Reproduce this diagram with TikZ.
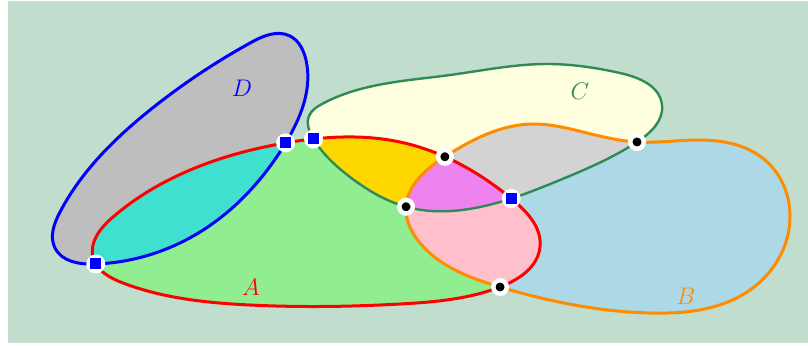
\documentclass[tikz,border=0pt]{standalone}
\usepackage{xcolor}
\usepackage{tikz}
\usetikzlibrary{intersections,hobby}

\definecolor{bgsage}{HTML}{C0DDCD}
\definecolor{dgray}{HTML}{BEBEBE}
\definecolor{turq}{HTML}{40E0D0}
\definecolor{lgreen}{HTML}{90EE90}
\definecolor{lyellow}{HTML}{FFFFE0}
\definecolor{goldfill}{HTML}{FFD700}
\definecolor{violetfill}{HTML}{EE82EE}
\definecolor{lgrayfill}{HTML}{D3D3D3}
\definecolor{pinkfill}{HTML}{FFC0CB}
\definecolor{lblue}{HTML}{ADD8E6}
\definecolor{dorange}{HTML}{FF8C00}
\definecolor{sgreen}{HTML}{2E8B57}

% the four sets, as closed curves
\newcommand{\curveA}{plot[closed hobby] coordinates {(93,257) (113,217) (200,166) (285,143)
    (400,142) (513,200) (540,247) (500,287) (400,304) (250,305) (123,283)}}
\newcommand{\curveB}{plot[closed hobby] coordinates {(406,207) (446,156) (533,124) (583,132)
    (637,142) (700,140) (765,160) (790,215) (750,290) (650,313) (500,287) (420,243)}}
\newcommand{\curveC}{plot[closed hobby] coordinates {(313,138) (309,116) (322,104) (450,75)
    (545,64) (620,73) (662,105) (637,142) (560,180) (480,207) (407,207) (350,177)}}
\newcommand{\curveD}{plot[closed hobby] coordinates {(95,264) (55,248) (60,212) (150,110)
    (250,43) (290,36) (306,60) (285,144) (200,232)}}

\begin{document}
\begin{tikzpicture}[
    x=0.5pt, y=-0.5pt,
    font=\fontsize{13}{16}\selectfont,
    setline/.style={line width=1.5pt},
    sqmark/.style={circle, fill=white, minimum size=9.5pt, inner sep=0pt,
        path picture={\fill[blue] ([shift={(-2.75pt,-2.75pt)}]path picture bounding box.center)
            rectangle ++(5.5pt,5.5pt);}},
    dotmark/.style={circle, fill=black, draw=white, line width=2.25pt,
        minimum size=6.75pt, inner sep=0pt},
    ]
\useasboundingbox (0,0) rectangle (808,345);
\fill[bgsage] (8,1) rectangle (808,343);

% plain regions
\fill[lgreen] \curveA;
\fill[lblue] \curveB;
\fill[lyellow] \curveC;
\fill[dgray] \curveD;

% overlaps
\begin{scope}
  \clip \curveA;
  \fill[turq] \curveD;
  \fill[goldfill] \curveC;
  \fill[pinkfill] \curveB;
\end{scope}
\begin{scope}
  \clip \curveB;
  \fill[lgrayfill] \curveC;
  \clip \curveA;
  \fill[violetfill] \curveC;
\end{scope}

% outlines
\draw[setline, red, name path=A] \curveA;
\draw[setline, dorange, name path=B] \curveB;
\draw[line width=1.2pt, sgreen, name path=C] \curveC;
\draw[setline, blue, name path=D] \curveD;

% labels
\node[blue] (labD) at (242,88) {$D$};
\node[sgreen] (labC) at (580,91) {$C$};
\node[red] (labA) at (251,287) {$A$};
\node[dorange] (labB) at (686,296) {$B$};

% crossing points
\path[name intersections={of=A and D, name=ad}];
\path[name intersections={of=A and C, name=ac}];
\path[name intersections={of=A and B, name=ab}];
\path[name intersections={of=B and C, name=bc}];
\node[sqmark] (ad1) at (ad-1) {};
\node[sqmark] (ad2) at (ad-2) {};
\node[sqmark] (ac1) at (ac-1) {};
\node[sqmark] (ac2) at (ac-2) {};
\node[dotmark] (ab1) at (ab-1) {};
\node[dotmark] (ab2) at (ab-2) {};
\node[dotmark] (bc1) at (bc-1) {};
\node[dotmark] (bc2) at (bc-2) {};
\end{tikzpicture}
\end{document}
